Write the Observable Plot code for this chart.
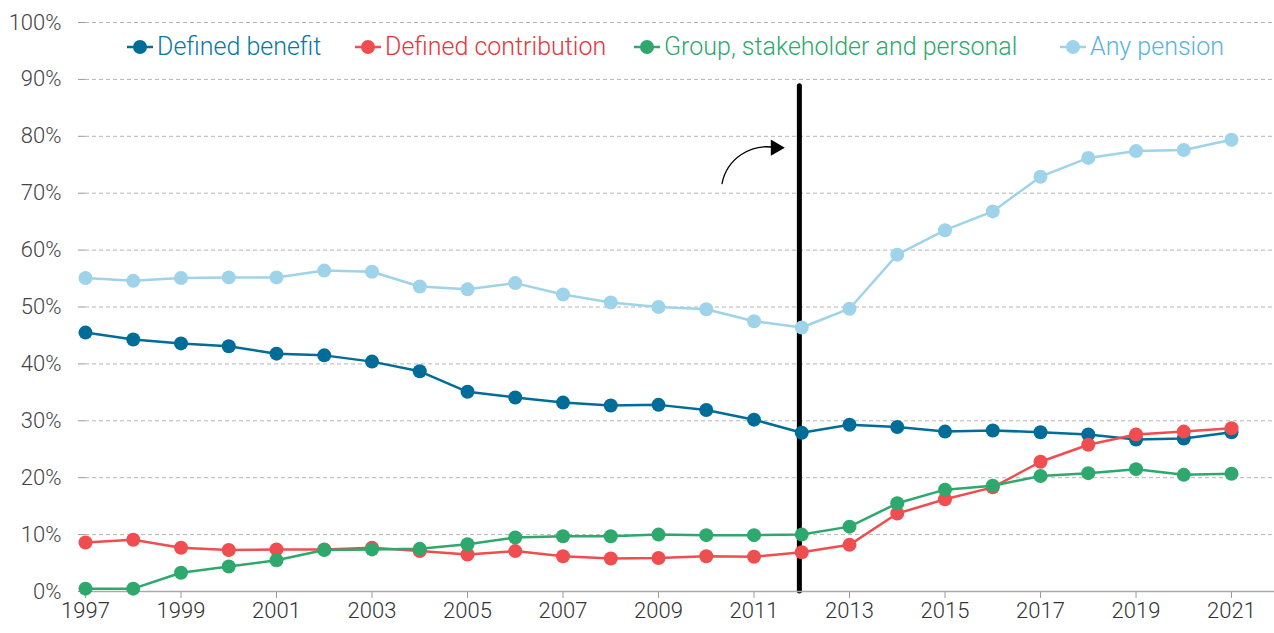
<!DOCTYPE html>
<html>
<head>
<meta charset="utf-8">
<script src="https://cdn.jsdelivr.net/npm/d3@7"></script>
<script src="https://cdn.jsdelivr.net/npm/@observablehq/plot@0.6"></script>
<style>
  html, body { margin: 0; padding: 0; background: #fff; }
  #wrap { position: relative; width: 1274px; height: 633px; font-family: Roboto, "Noto Sans", sans-serif; }
  #legend { position: absolute; left: 0; top: 0; width: 1274px; height: 100px; font-size: 25px; font-weight: 300; }
  .item { position: absolute; top: 32px; display: flex; align-items: center; gap: 4px; white-space: nowrap; }
  .item svg { display: block; }
</style>
</head>
<body>
<div id="wrap">
  <div id="chart"></div>
  <div id="legend"></div>
</div>
<script>
const years = d3.range(1997, 2022);
const seriesNames = ["Defined benefit", "Defined contribution", "Group, stakeholder and personal", "Any pension"];
const seriesColors = ["#006d98", "#f04d50", "#2ea86c", "#9ed3e9"];
const legendTextColors = ["#0a77a3", "#e8343a", "#2ea86c", "#59b2e0"];
const legendLeft = [127, 355, 634, 1060];

const definedBenefit = [45.5, 44.3, 43.6, 43.1, 41.8, 41.5, 40.4, 38.7, 35.1, 34.1, 33.2, 32.7, 32.8, 31.9, 30.2, 27.9, 29.3, 28.9, 28.1, 28.3, 28.0, 27.6, 26.7, 26.9, 28.0];
const definedContribution = [8.6, 9.1, 7.7, 7.3, 7.4, 7.4, 7.7, 7.1, 6.5, 7.1, 6.2, 5.8, 5.9, 6.2, 6.1, 6.9, 8.2, 13.7, 16.2, 18.3, 22.8, 25.8, 27.6, 28.1, 28.7];
const groupPersonal = [0.5, 0.5, 3.3, 4.4, 5.5, 7.3, 7.4, 7.5, 8.3, 9.5, 9.7, 9.7, 10.0, 9.9, 9.9, 10.0, 11.4, 15.5, 17.9, 18.6, 20.3, 20.8, 21.5, 20.5, 20.7];
const anyPension = [55.1, 54.6, 55.1, 55.2, 55.2, 56.4, 56.2, 53.6, 53.1, 54.2, 52.2, 50.8, 50.0, 49.6, 47.5, 46.4, 49.7, 59.2, 63.5, 66.8, 72.9, 76.2, 77.4, 77.6, 79.4];

const yTicks = d3.range(0, 101, 10);
const xTicks = d3.range(1997, 2022, 2);

// annotation: series break marker and curved arrow
const breakYear = [2011.95];
const breakTop = [88.8];
const arrowFrom = {x: 2010.33, y: 71.7};
const arrowTo = {x: 2011.45, y: 78.0};

const valuesBySeries = [definedBenefit, definedContribution, groupPersonal, anyPension];
const rows = [];
seriesNames.forEach((s, i) => years.forEach((yr, j) => rows.push({series: s, year: yr, value: valuesBySeries[i][j]})));

const drawOrder = ["Any pension", "Defined benefit", "Defined contribution", "Group, stakeholder and personal"];
const colorOf = Object.fromEntries(seriesNames.map((s, i) => [s, seriesColors[i]]));

const marks = [
  Plot.ruleY(yTicks, {stroke: "#b5b5b5", strokeDasharray: "4,3", strokeWidth: 1}),
  Plot.axisY({ticks: yTicks, tickFormat: d => d + "%", tickSize: 7, tickPadding: 17, stroke: "#999", fill: "#444", fontSize: 22, fontWeight: 300, label: null}),
  Plot.axisX({ticks: xTicks, tickFormat: d => String(d), tickSize: 7, tickPadding: 4, stroke: "#999", fill: "#333", fontSize: 22, fontWeight: 300, label: null}),
  Plot.ruleX(breakYear, {x: d => d, y1: 0, y2: breakTop[0], stroke: "#000", strokeWidth: 5, strokeLinecap: "round"}),
  Plot.ruleY([0], {stroke: "#aaa", strokeWidth: 1.5}),
  Plot.arrow([{x1: arrowFrom.x, y1: arrowFrom.y, x2: arrowTo.x, y2: arrowTo.y}], {x1: "x1", y1: "y1", x2: "x2", y2: "y2", bend: 45, stroke: "#000", strokeWidth: 1.3, headLength: 0}),
  Plot.dot([arrowTo], {x: "x", y: "y", symbol: "triangle", rotate: 90, r: 6, fill: "#000", stroke: "none"})
];
for (const s of drawOrder) {
  const d = rows.filter(r => r.series === s);
  marks.push(Plot.line(d, {x: "year", y: "value", stroke: colorOf[s], strokeWidth: 2.5}));
  marks.push(Plot.dot(d, {x: "year", y: "value", r: 7, fill: colorOf[s], stroke: "none"}));
}

const chart = Plot.plot({
  width: 1274,
  height: 633,
  marginLeft: 85,
  marginRight: 0,
  marginTop: 22,
  marginBottom: 42,
  style: {fontFamily: "Roboto, 'Noto Sans', sans-serif", background: "#fff", overflow: "visible"},
  x: {domain: [1997, 2021.9]},
  y: {domain: [0, 100]},
  marks
});
document.getElementById("chart").appendChild(chart);

const legend = document.getElementById("legend");
seriesNames.forEach((s, i) => {
  const item = document.createElement("div");
  item.className = "item";
  item.style.left = legendLeft[i] + "px";
  item.innerHTML = `<svg width="26" height="16"><line x1="0" y1="8" x2="26" y2="8" stroke="${seriesColors[i]}" stroke-width="2.5"/><circle cx="13" cy="8" r="7" fill="${seriesColors[i]}"/></svg><span style="color:${legendTextColors[i]}">${s}</span>`;
  legend.appendChild(item);
});
</script>
</body>
</html>
